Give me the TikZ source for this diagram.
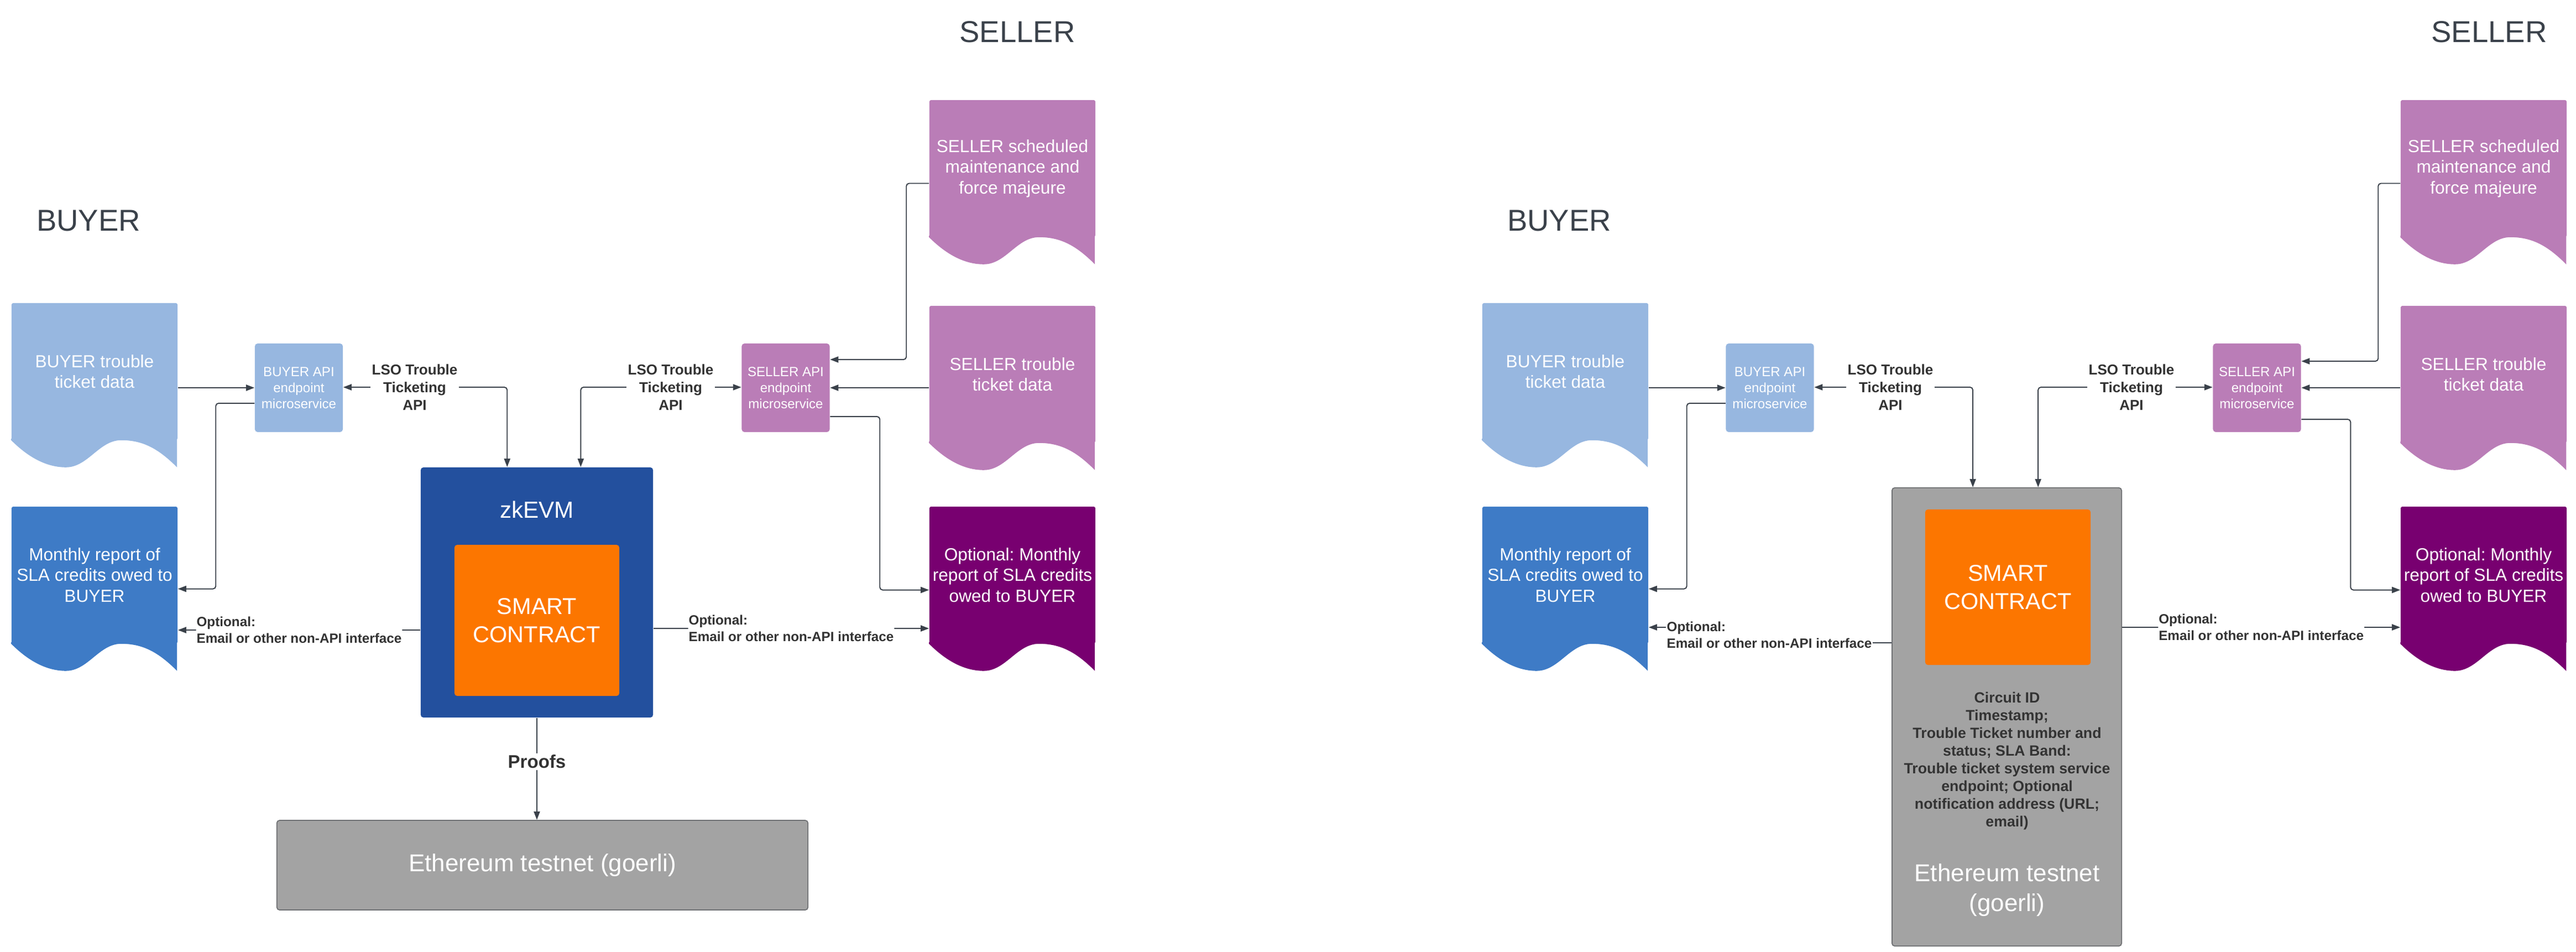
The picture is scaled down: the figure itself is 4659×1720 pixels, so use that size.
\documentclass[tikz,border=0pt]{standalone}
\usepackage{fontspec}
\setmainfont{Liberation Sans}
\usepackage{tikz}
\usetikzlibrary{arrows.meta}
\frenchspacing
\definecolor{bluelight}{HTML}{97B7E0}
\definecolor{bluemid}{HTML}{3E7BC6}
\definecolor{purplelight}{HTML}{BA7DB7}
\definecolor{purpledark}{HTML}{780070}
\definecolor{zkblue}{HTML}{23509E}
\definecolor{scorange}{HTML}{FC7600}
\definecolor{grayfill}{HTML}{A3A3A3}
\definecolor{grayline}{HTML}{6E7073}
\definecolor{linecol}{HTML}{3A414A}
\definecolor{txtdark}{HTML}{333333}
\definecolor{hdrgray}{HTML}{3A414A}
\tikzstyle{sheet} = [rectangle, rounded corners=0.03cm, minimum width=3cm, minimum height=2.47cm, inner sep=0pt, align=center, text=white, font={\fontsize{9}{10.7}\selectfont}]
\tikzstyle{api} = [rectangle, rounded corners=0.05cm, minimum width=1.59cm, minimum height=1.6cm, inner sep=0pt, align=center, text=white, font={\fontsize{6.85}{8.2}\selectfont}]
\tikzstyle{lso} = [align=center, inner sep=0.02cm, text=txtdark, font={\fontsize{7.4}{9}\selectfont\bfseries}]
\tikzstyle{opt} = [align=left, fill=white, inner sep=0.01cm, text=txtdark, font={\fontsize{6.9}{8.4}\selectfont\bfseries}]
\tikzstyle{hdr} = [text=hdrgray, font={\fontsize{15.5}{18}\selectfont}]
\tikzstyle{big} = [align=center, inner sep=0pt, text=white, font={\fontsize{11.8}{14.5}\selectfont}]
\tikzstyle{eth} = [align=center, inner sep=0pt, text=white, font={\fontsize{12.5}{15.3}\selectfont}]
\tikzstyle{arr} = [draw=linecol, line width=0.55pt, rounded corners=0.05cm, -{Triangle[length=0.15cm,width=0.11cm]}]
\tikzstyle{line} = [draw=linecol, line width=0.55pt]

\begin{document}
\begin{tikzpicture}[x=0.01cm, y=-0.01cm]
    \useasboundingbox (0,0) rectangle (4659,1720);
    % zkEVM version
    \node[hdr](seller) at (1840,58){SELLER};
    \node[hdr](buyer) at (160,399){BUYER};
    \node[sheet,fill=bluelight](btt) at (171,671.5){BUYER trouble\\ticket data};
    \node[sheet,fill=bluemid](bmr) at (171,1039.5){Monthly report of\\SLA credits owed to\\BUYER};
    \node[sheet,fill=purplelight](sschd) at (1831,304.5){SELLER scheduled\\maintenance and\\force majeure};
    \node[sheet,fill=purplelight](stt) at (1831,676.5){SELLER trouble\\ticket data};
    \node[sheet,fill=purpledark](smr) at (1831,1039.5){Optional: Monthly\\report of SLA credits\\owed to BUYER};
    \node[api,fill=bluelight](bapi) at (540.5,701){BUYER API\\endpoint\\microservice};
    \node[api,fill=purplelight](sapi) at (1421,701){SELLER API\\endpoint\\microservice};
    \node[lso](lso1) at (750,700){LSO Trouble\\Ticketing\\API};
    \node[lso](lso2) at (1213,700){LSO Trouble\\Ticketing\\API};
    \node[fill=zkblue,rounded corners=0.05cm,minimum width=4.2cm,minimum height=4.52cm](zk) at (971,1071){};
    \node[big,font={\fontsize{12}{14}\selectfont}](zkt) at (971,921){zkEVM};
    \node[big,fill=scorange,rounded corners=0.05cm,minimum width=2.98cm,minimum height=2.73cm](sc) at (971,1121.5){SMART\\CONTRACT};
    \node[eth,draw=grayline,fill=grayfill,rounded corners=0.05cm,line width=0.5pt,minimum width=9.6cm,minimum height=1.62cm](eth) at (981,1564){Ethereum testnet (goerli)};
    \coordinate (zkL) at ([xshift=1.57cm]zk.north west);
    \coordinate (zkR) at ([xshift=2.9cm]zk.north west);

    % goerli version
    \node[hdr](seller2) at (4502,58){SELLER};
    \node[hdr](buyer2) at (2820,399){BUYER};
    \node[sheet,fill=bluelight](btt2) at (2831,671.5){BUYER trouble\\ticket data};
    \node[sheet,fill=bluemid](bmr2) at (2831,1039.5){Monthly report of\\SLA credits owed to\\BUYER};
    \node[sheet,fill=purplelight](sschd2) at (4492,304.5){SELLER scheduled\\maintenance and\\force majeure};
    \node[sheet,fill=purplelight](stt2) at (4492,676.5){SELLER trouble\\ticket data};
    \node[sheet,fill=purpledark](smr2) at (4492,1039.5){Optional: Monthly\\report of SLA credits\\owed to BUYER};
    \node[api,fill=bluelight](bapi2) at (3201,701){BUYER API\\endpoint\\microservice};
    \node[api,fill=purplelight](sapi2) at (4082,701){SELLER API\\endpoint\\microservice};
    \node[lso](lso3) at (3419,700){LSO Trouble\\Ticketing\\API};
    \node[lso](lso4) at (3855,700){LSO Trouble\\Ticketing\\API};
    \node[draw=grayline,fill=grayfill,rounded corners=0.05cm,line width=0.5pt,minimum width=4.15cm,minimum height=8.28cm](gw) at (3629.5,1296){};
    \node[big,fill=scorange,rounded corners=0.05cm,minimum width=2.99cm,minimum height=2.81cm](sc2) at (3631.5,1061.5){SMART\\CONTRACT};
    \node[lso,font={\fontsize{7.6}{9.1}\selectfont\bfseries}](info) at (3630,1376){Circuit ID\\Timestamp;\\Trouble Ticket number and\\status; SLA Band:\\Trouble ticket system service\\endpoint; Optional\\notification address (URL;\\email)};
    \node[eth](eth2) at (3630,1609){Ethereum testnet\\(goerli)};
    \coordinate (gL) at ([xshift=1.47cm]gw.north west);
    \coordinate (gR) at ([xshift=2.65cm]gw.north west);

    \foreach \n/\c in {btt/bluelight,bmr/bluemid,sschd/purplelight,stt/purplelight,smr/purpledark,btt2/bluelight,bmr2/bluemid,sschd2/purplelight,stt2/purplelight,smr2/purpledark}
        \fill[\c,shift={(\n.south west)}] (0,-3) -- (0,0) .. controls (33,33) and (66,49) .. (99,49) .. controls (139,49) and (159,0) .. (199,0) .. controls (239,0) and (267,16) .. (300,49) -- (300,-3) -- cycle;

    \draw[arr](btt.east |- bapi.west) -- (bapi.west);
    \draw[arr](lso1.west) -- (lso1.west -| bapi.east);
    \draw[arr](lso1.east) -| (zkL);
    \draw[arr]([yshift=-.28cm]bapi.west) -- ++(-70,0) |- ([yshift=-.25cm]bmr.east);
    \draw[arr](zk.west |- 0,1139) -- node[opt]{Optional:\\Email or other non-API interface} (bmr.east |- 0,1139);
    \draw[arr](lso2.east) -- (lso2.east -| sapi.west);
    \draw[arr](lso2.west) -| (zkR);
    \draw[arr]([yshift=-.27cm]sschd.west) -- ++(-41,0) |- ([yshift=.51cm]sapi.east);
    \draw[arr](stt.west |- sapi.east) -- (sapi.east);
    \draw[arr]([yshift=-.52cm]sapi.east) -- ++(90,0) |- ([yshift=-.27cm]smr.west);
    \draw[arr](zk.east |- 0,1136) -- node[opt]{Optional:\\Email or other non-API interface} (smr.west |- 0,1136);
    \draw[arr](zk.south) -- node[pos=.43,fill=white,inner sep=0.03cm,text=txtdark,font={\fontsize{9.4}{11}\selectfont\bfseries}](proofs){Proofs} (zk.south |- eth.north);

    \draw[arr](btt2.east |- bapi2.west) -- (bapi2.west);
    \draw[arr](lso3.west) -- (lso3.west -| bapi2.east);
    \draw[arr](lso3.east) -| (gL);
    \draw[arr]([yshift=-.28cm]bapi2.west) -- ++(-70,0) |- ([yshift=-.25cm]bmr2.east);
    \node[opt](opt3) at (3200,1148){Optional:\\Email or other non-API interface};
    \draw[line](gw.west |- 0,1162) -- (opt3.east |- 0,1162);
    \draw[arr](opt3.west |- 0,1134) -- (bmr2.east |- 0,1134);
    \draw[arr](lso4.east) -- (lso4.east -| sapi2.west);
    \draw[arr](lso4.west) -| (gR);
    \draw[arr]([yshift=-.27cm]sschd2.west) -- ++(-40,0) |- ([yshift=.48cm]sapi2.east);
    \draw[arr](stt2.west |- sapi2.east) -- (sapi2.east);
    \draw[arr]([yshift=-.57cm]sapi2.east) -- ++(89,0) |- ([yshift=-.27cm]smr2.west);
    \draw[arr](gw.east |- 0,1134) -- node[opt]{Optional:\\Email or other non-API interface} (smr2.west |- 0,1134);
\end{tikzpicture}
\end{document}
